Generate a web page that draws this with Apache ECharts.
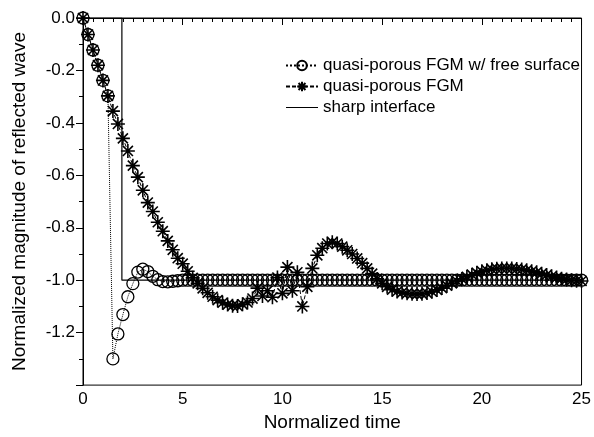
<!DOCTYPE html>
<html>
<head>
<meta charset="utf-8">
<script src="https://cdn.jsdelivr.net/npm/echarts@6/dist/echarts.min.js"></script>
<style>
  html, body { margin: 0; padding: 0; background: #fff; }
  #chart { width: 594px; height: 437px; }
</style>
</head>
<body>
<div id="chart"></div>
<script>
// normalized time samples (shared by both FGM curves)
const times = [0, 0.25, 0.5, 0.75, 1, 1.25, 1.5, 1.75, 2, 2.25, 2.5, 2.75, 3, 3.25, 3.5, 3.75,
  4, 4.25, 4.5, 4.75, 5, 5.25, 5.5, 5.75, 6, 6.25, 6.5, 6.75, 7, 7.25, 7.5, 7.75,
  8, 8.25, 8.5, 8.75, 9, 9.25, 9.5, 9.75, 10, 10.25, 10.5, 10.75, 11, 11.25, 11.5, 11.75,
  12, 12.25, 12.5, 12.75, 13, 13.25, 13.5, 13.75, 14, 14.25, 14.5, 14.75, 15, 15.25, 15.5, 15.75,
  16, 16.25, 16.5, 16.75, 17, 17.25, 17.5, 17.75, 18, 18.25, 18.5, 18.75, 19, 19.25, 19.5, 19.75,
  20, 20.25, 20.5, 20.75, 21, 21.25, 21.5, 21.75, 22, 22.25, 22.5, 22.75, 23, 23.25, 23.5, 23.75,
  24, 24.25, 24.5, 24.75, 25]

const freeSurface = [0, -0.063, -0.122, -0.18, -0.238, -0.297, -1.3, -1.205, -1.131, -1.063,
  -1.013, -0.969, -0.958, -0.967, -0.985, -0.998, -1.005, -1.006, -1.004, -1.002,
  -1, -1, -1, -1, -1, -1, -1, -1, -1, -1, -1, -1, -1, -1, -1, -1, -1, -1, -1, -1,
  -1, -1, -1, -1, -1, -1, -1, -1, -1, -1, -1, -1, -1, -1, -1, -1, -1, -1, -1, -1,
  -1, -1, -1, -1, -1, -1, -1, -1, -1, -1, -1, -1, -1, -1, -1, -1, -1, -1, -1, -1,
  -1, -1, -1, -1, -1, -1, -1, -1, -1, -1, -1, -1, -1, -1, -1, -1, -1, -1, -1, -1, -1]

const porous = [0, -0.063, -0.122, -0.18, -0.238, -0.297,
  -0.355, -0.404, -0.459, -0.507, -0.563, -0.607, -0.657, -0.704, -0.738, -0.779,
  -0.813, -0.85, -0.884, -0.916, -0.937, -0.966, -0.991, -1.012, -1.031, -1.048,
  -1.063, -1.076, -1.086, -1.093, -1.097, -1.098, -1.092, -1.085, -1.07, -1.03,
  -1.06, -1.04, -1.065, -0.99, -1.05, -0.95, -1.04, -0.97, -1.1, -1.025,
  -0.955, -0.905, -0.878, -0.86, -0.855, -0.86, -0.872, -0.886, -0.9, -0.917,
  -0.935, -0.955, -0.975, -0.995, -1.012, -1.025, -1.036, -1.043, -1.047, -1.05,
  -1.052, -1.053, -1.052, -1.049, -1.044, -1.037, -1.03, -1.021, -1.012, -1.003,
  -0.995, -0.987, -0.979, -0.972, -0.966, -0.962, -0.958, -0.956, -0.955, -0.955,
  -0.955, -0.957, -0.959, -0.962, -0.966, -0.97, -0.975, -0.98, -0.985, -0.99,
  -0.994, -0.997, -1, -1.002, -1.003]

const sharpT = [0, 1.95, 1.95, 25]
const sharpY = [0, 0, -1, -1]

const names = ['quasi-porous FGM w/ free surface', 'quasi-porous FGM', 'sharp interface']

const ink = '#000'
const font = 'Liberation Sans, Arial, sans-serif'
const star = 'path://M0,-1L0,1M-1,0L1,0M-0.72,-0.72L0.72,0.72M-0.72,0.72L0.72,-0.72'
// plain line for the legend (tiny end dots keep the box 12px tall)
const plainLine = 'path://M0,-6L0.01,-6M0,-0.6L32,-0.6L32,0.6L0,0.6ZM0,6L0.01,6'

const pairs = (xs, ys) => xs.map((x, i) => [x, ys[i]])

const option = {
  animation: false,
  backgroundColor: '#fff',
  textStyle: { fontFamily: font, color: ink },
  grid: {
    left: 83,
    right: 7,
    top: 18,
    bottom: 45,
    show: true,
    borderColor: ink,
    borderWidth: 1
  },
  legend: {
    orient: 'vertical',
    left: 280,
    top: 52,
    itemWidth: 32,
    itemHeight: 12,
    itemGap: 4,
    data: [names[0], names[1], { name: names[2], icon: plainLine }],
    textStyle: { fontFamily: font, fontSize: 17, color: ink }
  },
  xAxis: {
    type: 'value',
    min: 0,
    max: 25,
    interval: 5,
    name: 'Normalized time',
    nameLocation: 'middle',
    nameGap: 23,
    nameTextStyle: { fontSize: 19, color: ink },
    axisLine: { lineStyle: { color: ink, width: 1 } },
    axisTick: { length: 7, lineStyle: { color: ink } },
    minorTick: { show: true, splitNumber: 10, length: 4, lineStyle: { color: ink } },
    axisLabel: { fontSize: 17, color: ink, margin: 6 },
    splitLine: { show: false }
  },
  yAxis: {
    type: 'value',
    min: -1.4,
    max: 0,
    interval: 0.2,
    name: 'Normalized magnitude of reflected wave',
    nameLocation: 'middle',
    nameGap: 54,
    nameTextStyle: { fontSize: 19, color: ink },
    axisLine: { lineStyle: { color: ink, width: 1 } },
    axisTick: { length: 7, lineStyle: { color: ink } },
    minorTick: { show: true, splitNumber: 2, length: 4, lineStyle: { color: ink } },
    axisLabel: {
      fontSize: 17,
      color: ink,
      margin: 8,
      formatter: v => (v < -1.35 ? '' : v.toFixed(1))
    },
    splitLine: { show: false }
  },
  series: [
    {
      name: names[0],
      type: 'line',
      data: pairs(times, freeSurface),
      symbol: 'circle',
      symbolSize: 12,
      itemStyle: { color: 'rgba(0,0,0,0)', borderColor: ink, borderWidth: 1.3 },
      lineStyle: { color: ink, width: 1, type: 'dotted' },
      z: 3
    },
    {
      name: names[1],
      type: 'line',
      data: pairs(times, porous),
      symbol: star,
      symbolSize: 14,
      itemStyle: { color: ink, borderColor: ink, borderWidth: 1.6 },
      lineStyle: { color: ink, width: 1, type: [4, 2] },
      z: 4
    },
    {
      name: names[2],
      type: 'line',
      data: pairs(sharpT, sharpY),
      showSymbol: false,
      symbol: 'none',
      itemStyle: { color: ink },
      lineStyle: { color: ink, width: 1.2 },
      z: 2
    }
  ]
}

const chart = echarts.init(document.getElementById('chart'))
chart.setOption(option)
</script>
</body>
</html>
